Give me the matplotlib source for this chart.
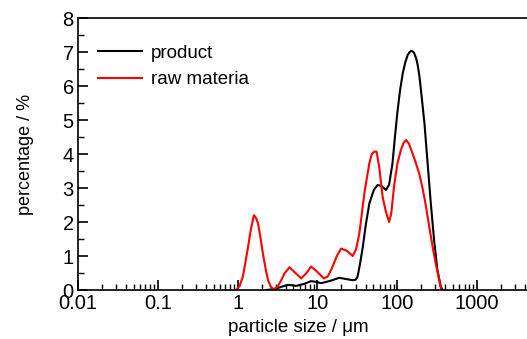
import numpy as np
import matplotlib
matplotlib.use('Agg')
import matplotlib.pyplot as plt
from matplotlib.ticker import LogLocator, FixedLocator, NullFormatter

plt.rcParams['font.family'] = ['Liberation Sans', 'DejaVu Sans']

# particle size (um) and percentage
product_size = [2.3, 2.7, 3.1, 3.6, 4.26, 4.8, 5.4, 6.8, 8.3, 9.6, 11.1, 14.5,
                18.8, 23.0, 27.5, 30.0, 31.8, 34.0, 37.0, 40.5, 44.7, 51.0, 56.8,
                64.0, 72.0, 79.0, 87.0, 93.0, 100.0, 108.0, 117.0, 126.0, 135.0,
                143.0, 151.0, 162.0, 172.0, 180.0, 189.0, 198.0, 208.0, 219.0,
                240.0, 263.0, 289.0, 318.0, 351.0, 370.0]
product_pct = [0.0, 0.02, 0.05, 0.1, 0.15, 0.14, 0.12, 0.18, 0.26, 0.24, 0.2, 0.27,
               0.36, 0.32, 0.29, 0.3, 0.39, 0.75, 1.27, 1.95, 2.55, 2.95, 3.09,
               3.05, 2.94, 3.1, 3.72, 4.45, 5.2, 5.85, 6.37, 6.7, 6.91,
               7.0, 7.04, 6.98, 6.82, 6.62, 6.3, 5.88, 5.4, 4.9,
               3.72, 2.55, 1.47, 0.59, 0.1, 0.0]

raw_size = [0.96, 1.06, 1.16, 1.25, 1.35, 1.47, 1.6, 1.7, 1.8, 1.93, 2.07, 2.23,
            2.4, 2.6, 2.82, 3.17, 3.5, 3.87, 4.47, 5.3, 6.25, 7.3, 8.3, 9.8,
            12.0, 13.5, 15.0, 17.5, 19.8, 23.5, 27.6, 30.5, 33.5, 39.0, 44.7,
            48.0, 51.6, 55.0, 59.5, 65.5, 72.0, 79.0, 84.0, 91.0, 100.0, 111.0,
            120.0, 129.0, 140.0, 155.0, 170.0, 188.0, 208.0, 229.0, 252.0,
            277.0, 305.0, 335.0, 355.0]
raw_pct = [0.0, 0.12, 0.39, 0.8, 1.27, 1.8, 2.2, 2.12, 1.96, 1.55, 1.08, 0.65,
           0.29, 0.1, 0.02, 0.1, 0.28, 0.49, 0.67, 0.5, 0.34, 0.5, 0.69, 0.55,
           0.34, 0.4, 0.62, 1.0, 1.22, 1.15, 1.0, 1.2, 1.67, 2.9, 3.73,
           4.0, 4.07, 4.07, 3.6, 2.74, 2.3, 2.0, 2.25, 3.04, 3.7, 4.12,
           4.33, 4.41, 4.3, 4.02, 3.75, 3.43, 2.98, 2.45, 1.85,
           1.27, 0.75, 0.29, 0.0]

fig = plt.figure(figsize=(5.27, 3.39), dpi=100)
ax = fig.add_axes([78 / 527, 1 - 290 / 339, 1 - 78 / 527, (290 - 18) / 339])

ax.plot(product_size, product_pct, color='black', lw=1.5, label='product')
ax.plot(raw_size, raw_pct, color='#ff0000', lw=1.5, label='raw materia')

ax.set_xscale('log')
ax.set_xlim(0.01, 10 ** 3.625)
ax.set_ylim(0, 8)
ax.spines['right'].set_visible(False)
ax.xaxis.set_major_locator(FixedLocator([0.01, 0.1, 1, 10, 100, 1000]))
ax.set_xticklabels(['0.01', '0.1', '1', '10', '100', '1000'])
ax.xaxis.set_minor_locator(LogLocator(base=10, subs=np.arange(2, 10), numticks=20))
ax.xaxis.set_minor_formatter(NullFormatter())
ax.set_yticks(range(0, 9))
ax.set_yticks(np.arange(0.5, 8, 1), minor=True)
ax.tick_params(which='major', direction='in', length=7, width=1.2, labelsize=14.5, pad=3)
ax.tick_params(which='minor', direction='in', length=4, width=1.0)
ax.tick_params(axis='x', which='both', top=False)
ax.tick_params(axis='y', which='both', right=False)
for s in ['left', 'bottom', 'top']:
    ax.spines[s].set_linewidth(1.2)

ax.set_xlabel('particle size / \u03bcm', fontsize=13.5)
ax.xaxis.set_label_coords(0.49, -0.105)
ax.set_ylabel('percentage / %', fontsize=13)
ax.yaxis.set_label_coords(-0.097, 0.5)

ax.legend(loc='upper left', frameon=False, fontsize=13.5, handlelength=2.35,
          handletextpad=0.45, labelspacing=0.5, borderaxespad=0.0,
          bbox_to_anchor=(0.028, 0.93))

fig.savefig('out.png', dpi=100)
